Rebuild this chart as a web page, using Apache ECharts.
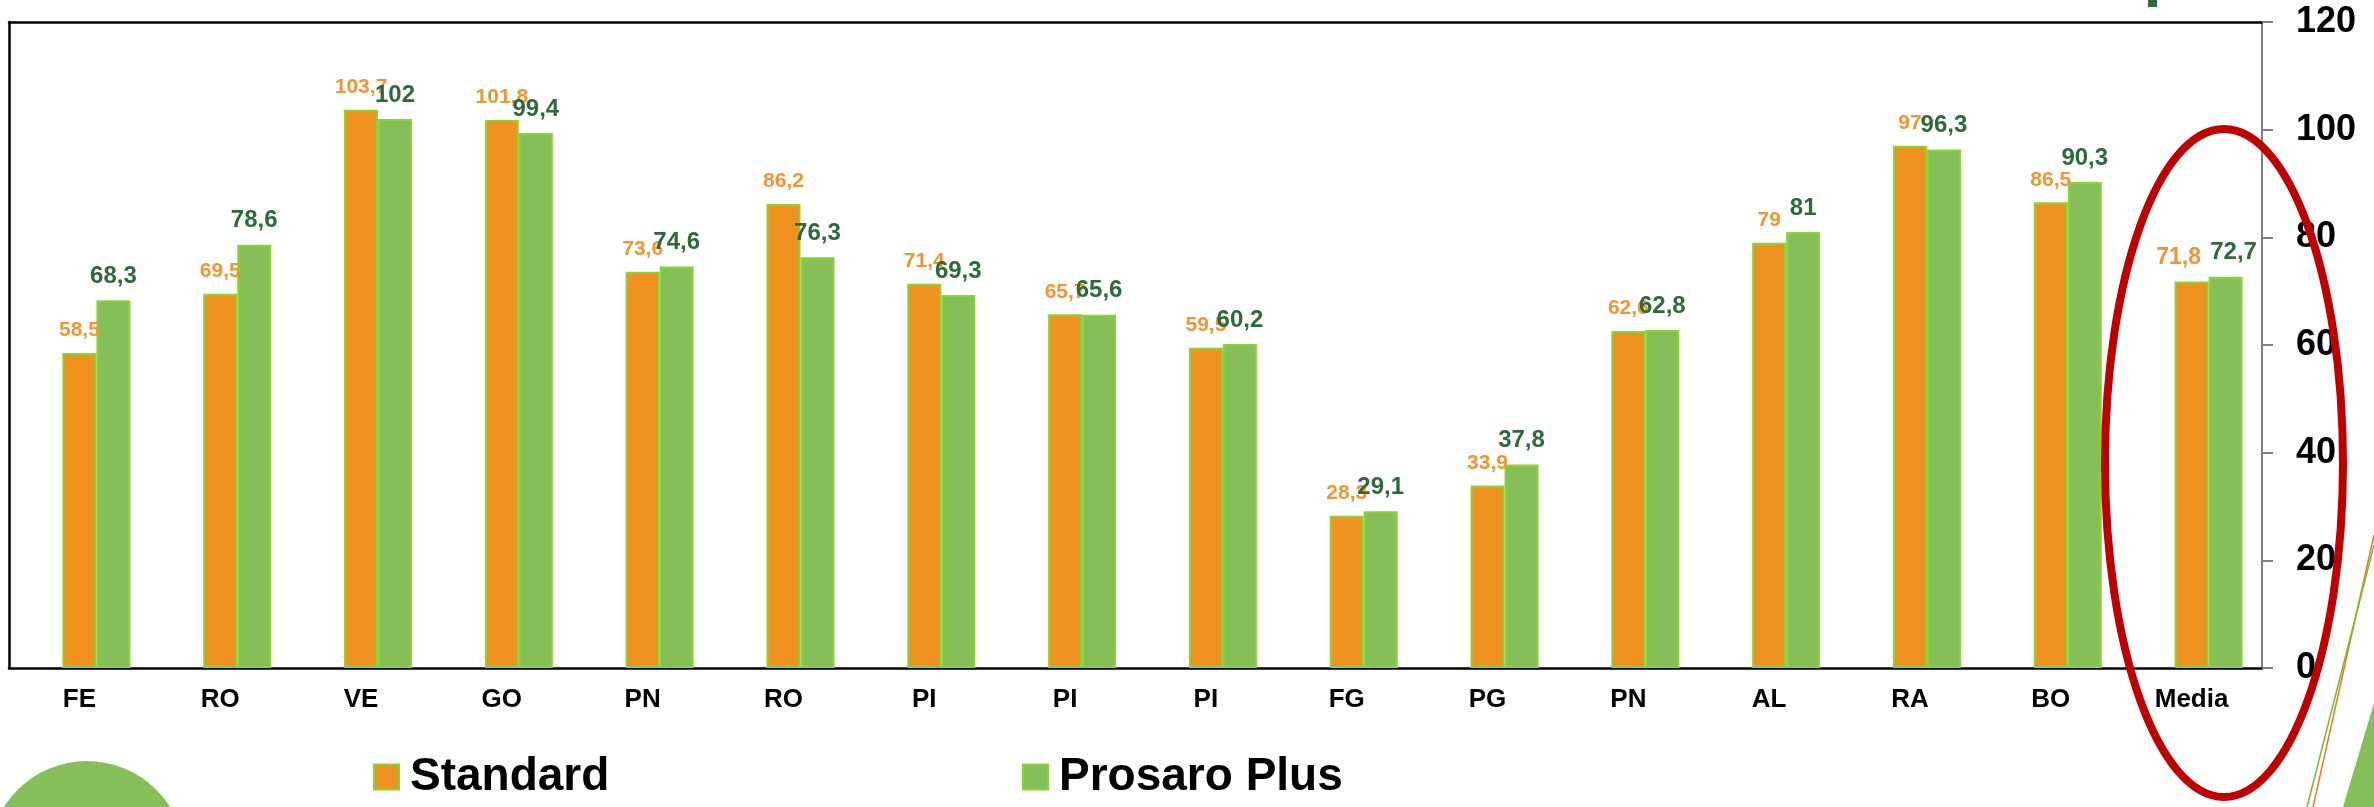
<!DOCTYPE html>
<html>
<head>
<meta charset="utf-8">
<script src="https://cdn.jsdelivr.net/npm/echarts@6/dist/echarts.min.js"></script>
<style>
html,body{margin:0;padding:0;background:#fff;}
#chart{width:2374px;height:807px;}
</style>
</head>
<body>
<div id="chart"></div>
<script>
const categories = ['FE','RO','VE','GO','PN','RO','PI','PI','PI','FG','PG','PN','AL','RA','BO','Media'];
const standard = [58.5, 69.5, 103.7, 101.8, 73.6, 86.2, 71.4, 65.7, 59.5, 28.3, 33.9, 62.6, 79, 97, 86.5, 71.8];
const prosaroPlus = [68.3, 78.6, 102, 99.4, 74.6, 76.3, 69.3, 65.6, 60.2, 29.1, 37.8, 62.8, 81, 96.3, 90.3, 72.7];
const padSlot = categories.map(() => null);
const yTicks = { min: 0, max: 120, interval: 20 };

const ORANGE = '#F0921F';
const GREEN = '#86BF58';
const BORDER = '#88D435';
const FONT = 'Liberation Sans, Arial, sans-serif';

const fmt = p => String(p.value).replace('.', ',');
const lastIdx = categories.length - 1;

const standardData = standard.map((v, i) => i === lastIdx
  ? { value: v, label: { fontSize: 23, offset: [-13, 0] } } : v);
const prosaroData = prosaroPlus.map((v, i) => i === lastIdx
  ? { value: v, label: { offset: [8, 0] } } : v);

const chart = echarts.init(document.getElementById('chart'));
chart.setOption({
  animation: false,
  backgroundColor: '#fff',
  grid: { left: 9, right: 112, top: 22, bottom: 139, containLabel: false },
  legend: [
    {
      data: ['Standard'], left: 373, top: 751, padding: 0,
      icon: 'rect', itemWidth: 25, itemHeight: 25,
      textStyle: { fontFamily: FONT, fontWeight: 'bold', fontSize: 46, color: '#000', lineHeight: 52, padding: [0,0,0,6] }
    },
    {
      data: ['Prosaro Plus'], left: 1022, top: 751, padding: 0,
      icon: 'rect', itemWidth: 25, itemHeight: 25,
      textStyle: { fontFamily: FONT, fontWeight: 'bold', fontSize: 46, color: '#000', lineHeight: 52, padding: [0,0,0,6] }
    }
  ],
  xAxis: [
    {
      type: 'category', data: categories, position: 'bottom',
      axisLine: { show: true, onZero: false, lineStyle: { color: '#000', width: 2.5 } },
      axisTick: { show: false },
      axisLabel: { fontFamily: FONT, fontWeight: 'bold', fontSize: 26, color: '#000', margin: 19, interval: 0 }
    },
    {
      type: 'category', data: categories, position: 'top',
      axisLine: { show: true, onZero: false, lineStyle: { color: '#000', width: 2.5 } },
      axisTick: { show: false }, axisLabel: { show: false }
    }
  ],
  yAxis: [
    {
      type: 'value', position: 'right', min: yTicks.min, max: yTicks.max, interval: yTicks.interval,
      axisLine: { show: true, onZero: false, lineStyle: { color: '#7f7f7f', width: 2 } },
      axisTick: { show: true, length: 11, lineStyle: { color: '#7f7f7f', width: 2 } },
      splitLine: { show: false },
      axisLabel: { fontFamily: FONT, fontWeight: 'bold', fontSize: 36, color: '#000', margin: 34 }
    },
    {
      type: 'value', position: 'left', min: yTicks.min, max: yTicks.max, interval: yTicks.interval,
      axisLine: { show: true, onZero: false, lineStyle: { color: '#000', width: 2.5 } },
      axisTick: { show: false }, axisLabel: { show: false }, splitLine: { show: false }
    }
  ],
  series: [
    {
      name: 'pad', type: 'bar', data: padSlot, barWidth: 34, barGap: '0%',
      itemStyle: { color: 'transparent' }, silent: true
    },
    {
      name: 'Standard', type: 'bar', data: standardData, barWidth: 34, barGap: '0%',
      itemStyle: { color: ORANGE, borderColor: BORDER, borderWidth: 2 },
      label: { show: true, position: 'top', distance: 12, formatter: fmt,
        fontFamily: FONT, fontWeight: 'bold', fontSize: 21, color: '#F29530' }
    },
    {
      name: 'Prosaro Plus', type: 'bar', data: prosaroData, barWidth: 34, barGap: '0%',
      itemStyle: { color: GREEN, borderColor: BORDER, borderWidth: 2 },
      label: { show: true, position: 'top', distance: 12, formatter: fmt,
        fontFamily: FONT, fontWeight: 'bold', fontSize: 24, color: '#2D6A3A' }
    }
  ],
  graphic: [
    { type: 'circle', shape: { cx: 87, cy: 859, r: 98 }, style: { fill: GREEN }, z: 1 },
    { type: 'rect', shape: { x: 2148, y: 0, width: 9, height: 7 }, style: { fill: '#2D6A3A' }, z: 1 },
    { type: 'polygon', shape: { points: [[2343, 807], [2374, 703], [2374, 807]] }, style: { fill: GREEN }, z: 1 },
    { type: 'line', shape: { x1: 2374, y1: 535, x2: 2313, y2: 807 }, style: { stroke: '#F07820', lineWidth: 1.5 }, z: 1 },
    { type: 'line', shape: { x1: 2374, y1: 545, x2: 2307, y2: 807 }, style: { stroke: '#6DBE2E', lineWidth: 1.5 }, z: 1 },
    { type: 'ellipse', shape: { cx: 2224, cy: 463, rx: 119, ry: 334 }, style: { fill: 'none', stroke: '#C00000', lineWidth: 8 }, z: 100 }
  ]
});
</script>
</body>
</html>
